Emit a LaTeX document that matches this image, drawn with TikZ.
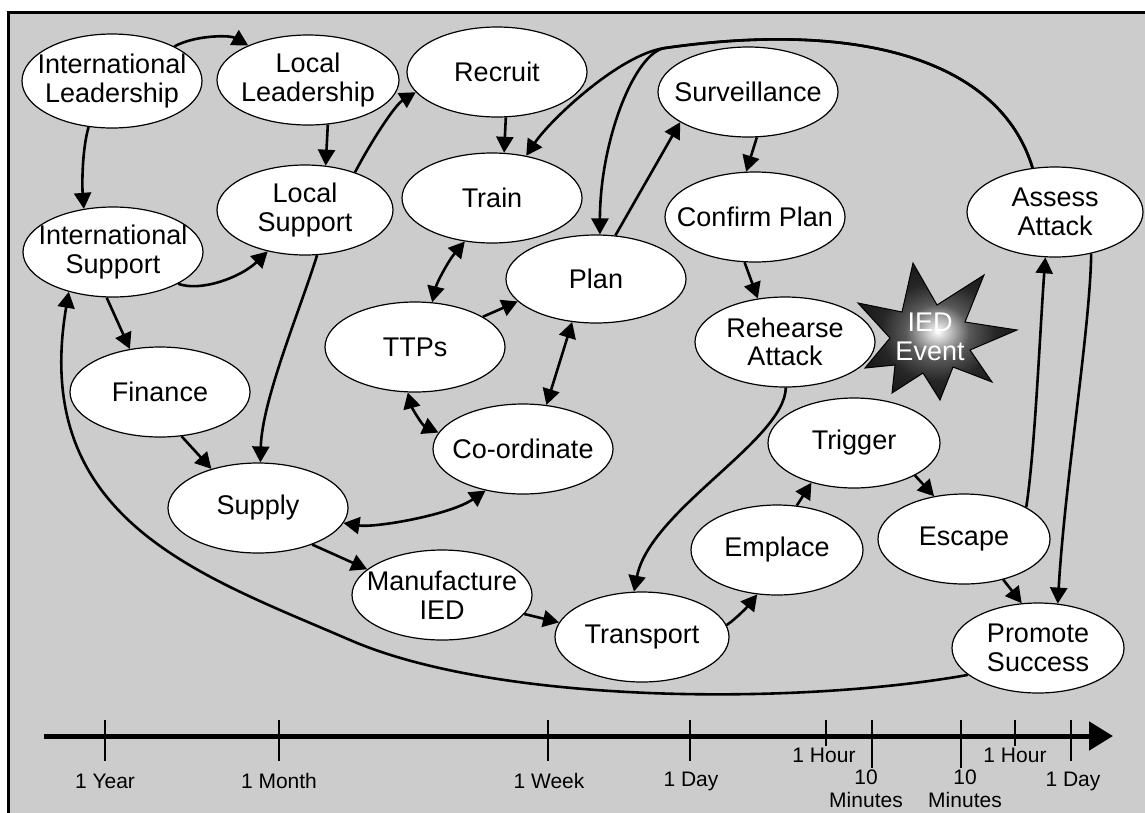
\documentclass[tikz,border=0pt]{standalone}
\usepackage{fontspec}
\setmainfont{Liberation Sans}
\usetikzlibrary{shapes.geometric,arrows.meta}
\definecolor{bggray}{RGB}{204,204,204}
\pgfdeclareradialshading{iedshade}{\pgfpoint{0bp}{0bp}}{color(0bp)=(white); color(4bp)=(black!25); color(10bp)=(black!65); color(18bp)=(black!85); color(30bp)=(black!93); color(50bp)=(black)}
\begin{document}
\begin{tikzpicture}[x=1pt,y=-1pt,
  ev/.style={ellipse, draw=black, line width=1.2pt, fill=white, inner xsep=-20pt, inner ysep=0pt,
    minimum width=180pt, minimum height=90pt, align=center,
    font=\fontsize{27}{28.5}\selectfont},
  conn/.style={line width=2.6pt, -{Triangle[length=16pt,width=17pt]}},
  dbl/.style={line width=2.6pt, {Triangle[length=16pt,width=17pt]}-{Triangle[length=16pt,width=17pt]}},
  tick/.style={line width=2.2pt},
  tlab/.style={font=\fontsize{21}{23}\selectfont, align=center, inner sep=0pt}
]
\useasboundingbox (0,0) rectangle (1145,812);
\begin{scope}
  \clip (0,0) rectangle (1145,812);
  \draw[line width=3pt, fill=bggray] (8,12) rectangle (1170,830);
\end{scope}

% nodes
\node[ev, minimum height=94pt] (IL) at (112,81) {International\\Leadership};
\node[ev, minimum width=182pt] (LL) at (308,80) {Local\\Leadership};
\node[ev, minimum width=176pt] (LS) at (305,210) {Local\\Support};
\node[ev] (IS) at (113,252) {International\\Support};
\node[ev] (Fin) at (160,392) {Finance};
\node[ev] (Sup) at (258,508) {Supply};
\node[ev] (Coord) at (523,449) {Co-ordinate};
\node[ev] (Man) at (442,595) {Manufacture\\IED};
\node[ev, minimum width=174pt] (Trans) at (642,637) {Transport};
\node[ev, minimum width=172pt] (Emp) at (777,550) {Emplace};
\node[ev, minimum width=172pt] (Trig) at (854,443) {Trigger};
\node[ev, minimum width=172pt] (Esc) at (964,539) {Escape};
\node[ev, minimum width=172pt] (Prom) at (1038,648) {Promote\\Success};
\node[ev, minimum width=176pt] (Assess) at (1055,212) {Assess\\Attack};
\node[ev] (Recruit) at (497,72) {Recruit};
\node[ev] (Train) at (492,198) {Train};
\node[ev] (Surv) at (748,92) {Surveillance};
\node[ev] (Conf) at (755,217) {Confirm Plan};
\node[ev] (Reh) at (785,342) {Rehearse\\Attack};
\node[ev, minimum height=88pt] (Plan) at (596,279) {Plan};
\node[ev] (TTPs) at (415,347) {TTPs};

% IED star
\path[draw=black, line width=1pt, shading=iedshade]
  (913,263) -- (937,305) -- (984,275) -- (965,322) -- (1017,330) -- (970,350) --
  (992,382) -- (953,367) -- (940,400) -- (923,373) -- (892,393) -- (895,365) --
  (865,368) -- (890,338) -- (858,303) -- (902,312) -- cycle;
\node[text=white, align=center, inner sep=0pt, font=\fontsize{27}{29}\selectfont] (IED) at (930,337) {IED\\Event};

% connectors
\coordinate (split) at (665,48);
\coordinate (bend) at (350,640);
\draw[conn] (IL.29) .. controls (195,35) and (230,35) .. (LL.150);
\draw[conn] (IL.243) .. controls (82,150) and (82,185) .. (IS.124);
\draw[conn] (LL.294) -- (LS.65);
\draw[conn] (LS.37) .. controls (372,140) and (395,105) .. (Recruit.194);
\draw[conn] (IS.334) .. controls (200,292) and (240,278) .. (LS.228);
\draw[conn] (IS.262) -- (Fin.125);
\draw[conn] (Fin.296) -- (Sup.140);
\draw[conn] (LS.285) .. controls (300,310) and (262,400) .. (Sup.87);
\draw[conn] (Recruit.281) -- (Train.75);
\draw[dbl] (Train.238) .. controls (449,260) and (437,282) .. (TTPs.69);
\draw[conn] (TTPs.24) -- (Plan.196);
\draw[dbl] (Plan.241) -- (Coord.62);
\draw[dbl] (TTPs.261) .. controls (412,408) and (422,425) .. (Coord.169);
\draw[dbl] (Sup.350) .. controls (375,528) and (450,515) .. (Coord.228);
\draw[conn] (Sup.326) -- (Man.161);
\draw[conn] (Man.347) -- (Trans.170);
\draw[conn] (Trans.8) .. controls (737,618) and (748,606) .. (Emp.246);
\draw[conn] (Emp.66) -- (Trig.223);
\draw[conn] (Trig.332) -- (Esc.125);
\draw[conn] (Esc.314) -- (Prom.110);
\draw[conn] (Esc.27) .. controls (1035,450) and (1040,330) .. (Assess.258);
\draw[conn] (Assess.311) .. controls (1090,330) and (1065,480) .. (Prom.66);
\draw[conn] (Prom.201) .. controls (800,705) and (500,705) .. (bend) .. controls (200,575) and (30,520) .. (IS.222);
\draw[conn] (Reh.271) .. controls (785,440) and (650,510) .. (Trans.100);
\draw[conn] (Surv.281) -- (Conf.101);
\draw[conn] (Conf.257) -- (Reh.122);
\draw[conn] (Plan.66) -- (Surv.204);
\draw[conn] (Assess.117) .. controls (1000,60) and (860,20) .. (split) .. controls (620,54) and (550,120) .. (Train.51);
\draw[conn] (Assess.117) .. controls (1000,60) and (860,20) .. (split) .. controls (635,52) and (600,140) .. (Plan.85);

% timeline
\coordinate (ax0) at (44,736);
\coordinate (ax1) at (1113,736);
\draw[line width=5pt, -{Triangle[length=24pt,width=28pt]}] (ax0) -- (ax1);
\foreach \x in {105,279,548,690,1071} \draw[tick] (\x,720) -- (\x,761);
\foreach \x in {826,1015} \draw[tick] (\x,720) -- (\x,746);
\foreach \x in {872,961} \draw[tick] (\x,720) -- (\x,768);
\node[tlab] (t1) at (105,781) {1 Year};
\node[tlab] (t2) at (279,781) {1 Month};
\node[tlab] (t3) at (549,781) {1 Week};
\node[tlab] (t4) at (691,781) {1 Day};
\node[tlab] (t5) at (824,755) {1 Hour};
\node[tlab] (t6) at (866,789) {10\\Minutes};
\node[tlab] (t7) at (965,789) {10\\Minutes};
\node[tlab] (t8) at (1015,755) {1 Hour};
\node[tlab] (t9) at (1073,781) {1 Day};
\end{tikzpicture}
\end{document}
